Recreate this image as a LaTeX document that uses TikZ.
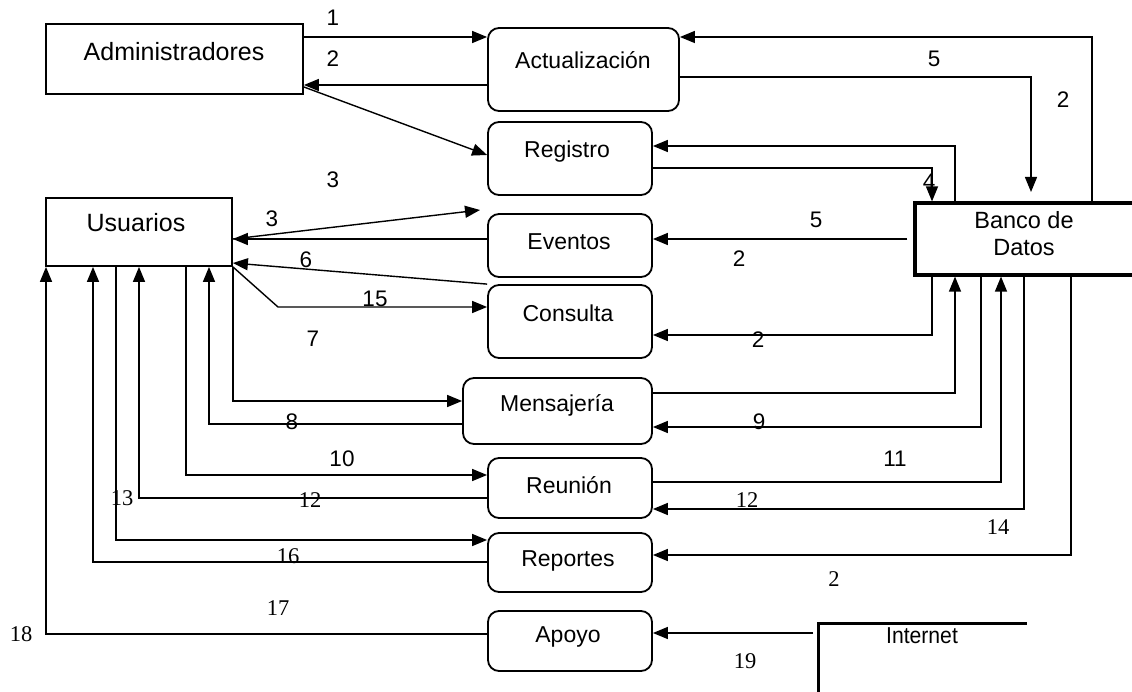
\documentclass[tikz,border=0pt]{standalone}
\usepackage{fontspec}
\setmainfont{Liberation Sans}
\newfontfamily\numserif{Liberation Serif}
\usetikzlibrary{arrows.meta}

\begin{document}
\begin{tikzpicture}[x=1pt,y=-1pt,
  ent/.style={draw, line width=1.8pt, rectangle, inner sep=0pt},
  proc/.style={draw, line width=1.8pt, rectangle, rounded corners=11pt, inner sep=0pt},
  conn/.style={line width=1.4pt},
  arr/.style={conn, -{Triangle[length=15pt,width=12pt]}},
  big/.style={font=\fontsize{25}{30}\selectfont, inner sep=0pt},
  txt/.style={font=\fontsize{23}{27}\selectfont, inner sep=0pt},
  lbl/.style={font=\fontsize{22.5}{22.5}\selectfont, inner sep=0pt},
  slbl/.style={font=\numserif\fontsize{22.5}{22.5}\selectfont, inner sep=0pt}]
\useasboundingbox (0,0) rectangle (1132,692);

% external entities
\node[ent, minimum width=257pt, minimum height=70pt] (adm) at (174.5,59) {};
\node[big] (adm-t) at (174,52) {Administradores};
\node[ent, minimum width=186pt, minimum height=68pt] (usu) at (139,232) {};
\node[big] (usu-t) at (136,223) {Usuarios};
\node[ent, line width=3.2pt, minimum width=225pt, minimum height=72pt] (bd) at (1027.5,239) {};
\node[txt, align=center, font=\fontsize{23.5}{27}\selectfont] (bd-t) at (1024,234) {Banco de\\Datos};

% processes
\node[proc, minimum width=191pt, minimum height=83pt] (act) at (583.5,69.5) {};
\node[txt] (act-t) at (583,60) {Actualización};
\node[proc, minimum width=164pt, minimum height=73pt] (reg) at (570,158.5) {};
\node[txt] (reg-t) at (567,152) {Registro};
\node[proc, minimum width=164pt, minimum height=63pt] (eve) at (570,245.5) {};
\node[txt] (eve-t) at (569,242) {Eventos};
\node[proc, minimum width=164pt, minimum height=73pt] (con) at (570,321.5) {};
\node[txt] (con-t) at (568,313) {Consulta};
\node[proc, minimum width=189pt, minimum height=66pt] (men) at (557.5,411) {};
\node[txt] (men-t) at (557,405) {Mensajería};
\node[proc, minimum width=164pt, minimum height=60pt] (reu) at (570,488) {};
\node[txt] (reu-t) at (569,485) {Reunión};
\node[proc, minimum width=164pt, minimum height=59pt] (rep) at (570,562.5) {};
\node[txt] (rep-t) at (568,561) {Reportes};
\node[proc, minimum width=164pt, minimum height=60pt] (apo) at (570,641) {};
\node[txt] (apo-t) at (568,637) {Apoyo};

% open store: Internet
\draw[line width=3pt] (818,695) -- (818,623) -- (1027,623);
\node[txt, xscale=0.92] (inet) at (922,636) {Internet};
\coordinate (inet-in) at (813,633);
\coordinate (reg-up) at (480,210);

% flows
\draw[arr] (adm.east |- 0,37) -- (act.west |- 0,37);
\draw[arr] (act.west |- 0,85) -- (adm.east |- 0,85);
\draw[arr] (adm.east |- 0,87) -- (reg.west |- 0,155);
\draw[arr] (1092,0 |- bd.north) |- (act.east |- 0,37);
\draw[arr] (act.east |- 0,77) -| (1031,192);
\draw[arr] (955,0 |- bd.north) |- (reg.east |- 0,146);
\draw[arr] (reg.east |- 0,168) -| (932,0 |- bd.north);
\draw[arr] ([xshift=-6pt]bd.west) -- (eve.east |- 0,239);
\draw[arr] (eve.west |- 0,239) -- (usu.east |- 0,239);
\draw[arr] (usu.east |- 0,239) -- (reg-up);
\draw[arr] (con.north west) -- (usu.east |- 0,263);
\draw[arr] (usu.south east) -- (278,307) -- (con.west |- 0,307);
\draw[arr] (932,0 |- bd.south) |- (con.east |- 0,335);
\draw[arr] (usu.south east) |- (men.west |- 0,401);
\draw[arr] (men.west |- 0,424) -| (209,0 |- usu.south);
\draw[arr] (men.east |- 0,393) -| (955,0 |- bd.south);
\draw[arr] (981,0 |- bd.south) |- (men.east |- 0,427);
\draw[arr] (186,0 |- usu.south) |- (reu.west |- 0,475);
\draw[arr] (reu.west |- 0,498) -| (139,0 |- usu.south);
\draw[arr] (reu.east |- 0,482) -| (1001,0 |- bd.south);
\draw[arr] (1024,0 |- bd.south) |- (reu.east |- 0,509);
\draw[arr] (116,0 |- usu.south) |- (rep.west |- 0,540);
\draw[arr] (rep.west |- 0,562) -| (93,0 |- usu.south);
\draw[arr] (1071,0 |- bd.south) |- (rep.east |- 0,555);
\draw[arr] (apo.west |- 0,634) -| (46,0 |- usu.south);
\draw[arr] (inet-in) -- (apo.east |- 0,633);

% flow numbers
\node[lbl] (n1) at (333,18) {1};
\node[lbl] (n2a) at (333,59) {2};
\node[lbl] (n3a) at (333,180) {3};
\node[lbl] (n5a) at (934,59) {5};
\node[lbl] (n2b) at (1063,100) {2};
\node[lbl] (n4) at (929,182) {4};
\node[lbl] (n3b) at (272,219) {3};
\node[lbl] (n5b) at (816,220) {5};
\node[lbl] (n2c) at (739,259) {2};
\node[lbl] (n6) at (306,260) {6};
\node[lbl] (n15) at (375,299) {15};
\node[lbl] (n7) at (313,339) {7};
\node[lbl] (n2d) at (758,340) {2};
\node[lbl] (n8) at (292,422) {8};
\node[lbl] (n9) at (759,422) {9};
\node[lbl] (n10) at (342,459) {10};
\node[lbl] (n11) at (895,459) {11};
\node[slbl] (n12a) at (310,500) {12};
\node[slbl] (n13) at (122,498) {13};
\node[slbl] (n12b) at (747,500) {12};
\node[slbl] (n14) at (998,527) {14};
\node[slbl] (n16) at (288,556) {16};
\node[slbl] (n2e) at (834,579) {2};
\node[slbl] (n17) at (278,608) {17};
\node[slbl] (n18) at (21,634) {18};
\node[slbl] (n19) at (745,661) {19};
\end{tikzpicture}
\end{document}
